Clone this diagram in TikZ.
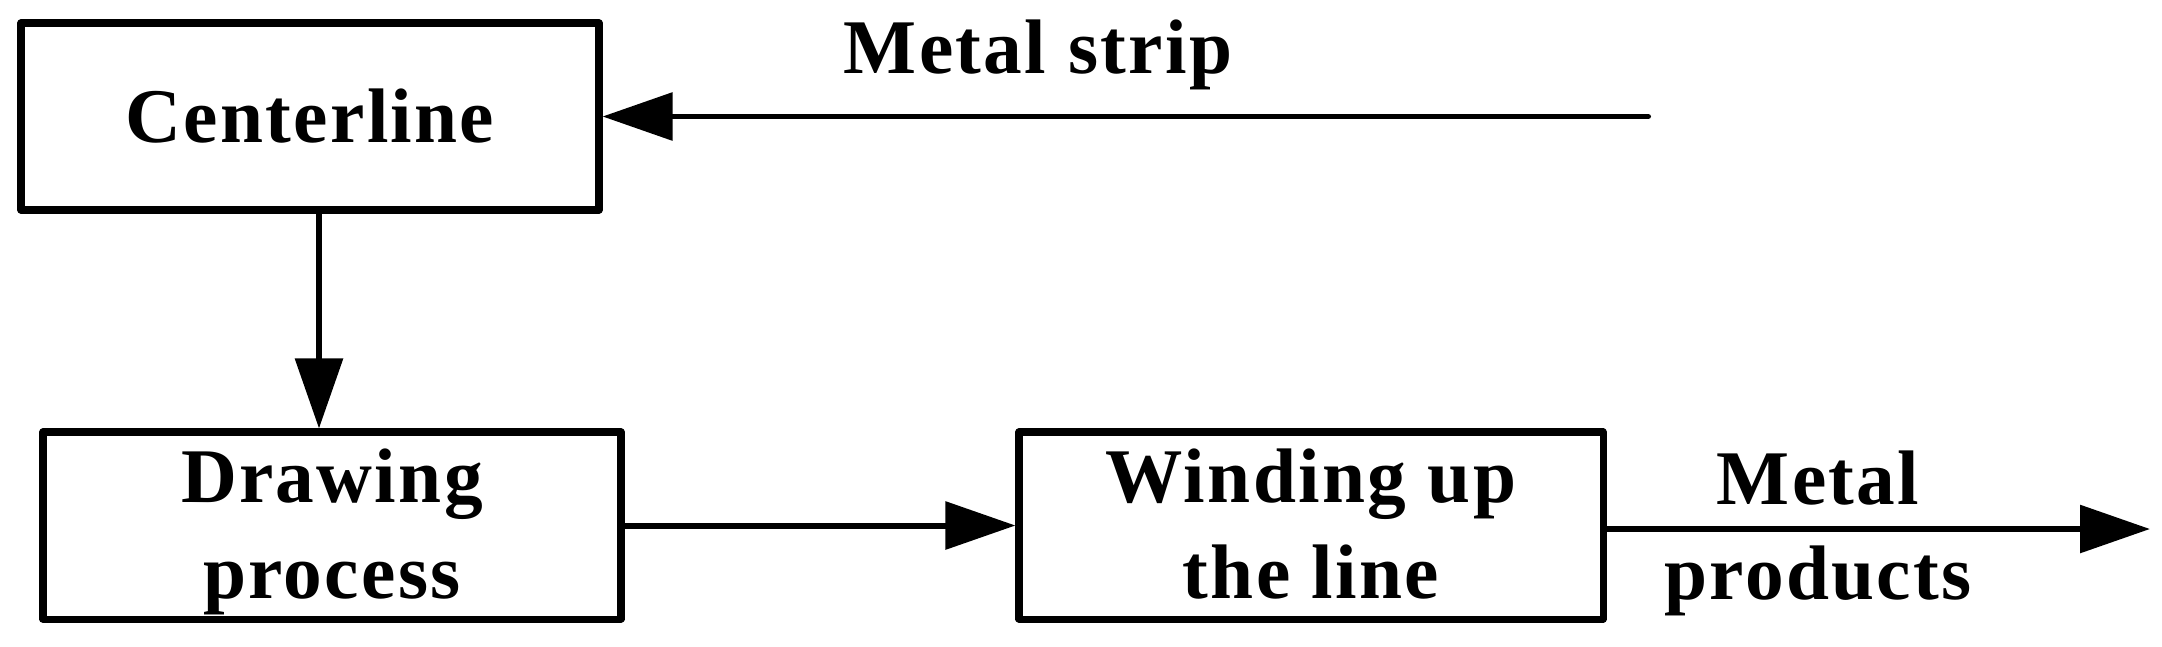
\documentclass[tikz,border=0pt]{standalone}
\usepackage{fontspec}
\setmainfont{Liberation Serif}[LetterSpace=3]
\usetikzlibrary{positioning,arrows.meta}

\begin{document}
\begin{tikzpicture}[
  blk/.style={draw,line width=2pt,line join=round,minimum width=5.78cm,minimum height=1.87cm,inner sep=0pt,align=center,font=\bfseries\fontsize{22}{27.2}\selectfont},
  twoline/.style={text height=1.55cm,text depth=0.1cm},
  lbl/.style={inner sep=0pt,align=center,font=\bfseries\fontsize{22}{27.2}\selectfont},
  flow/.style={line width=1.7pt,line cap=round,-{Triangle[length=7mm,width=4.7mm]}}]
  \useasboundingbox (0,0) rectangle (21.62,-6.46);
  % blocks
  \node[blk] (cl) at (3.10,-1.165) {Centerline};
  \node[blk,twoline] (dp) at (3.32,-5.255) {Drawing\\process};
  \node[blk,twoline,minimum width=5.84cm] (wu) at (13.11,-5.255) {Winding up\\the line};
  % free ends
  \coordinate (in) at (16.48,-1.165);
  \coordinate (out) at (21.50,-5.29);
  % labels
  \node[lbl] (ms) at (10.38,-0.545) {Metal strip};
  \node[lbl] (mp) at (18.18,-5.335) {Metal\\products};
  % arrows
  \draw[flow] (in) -- (cl.east);
  \draw[flow] ([xshift=0.09cm]cl.south) -- ([xshift=-0.13cm]dp.north);
  \draw[flow] (dp.east) -- (wu.west);
  \draw[flow] (wu.east |- out) -- (out);
\end{tikzpicture}
\end{document}
